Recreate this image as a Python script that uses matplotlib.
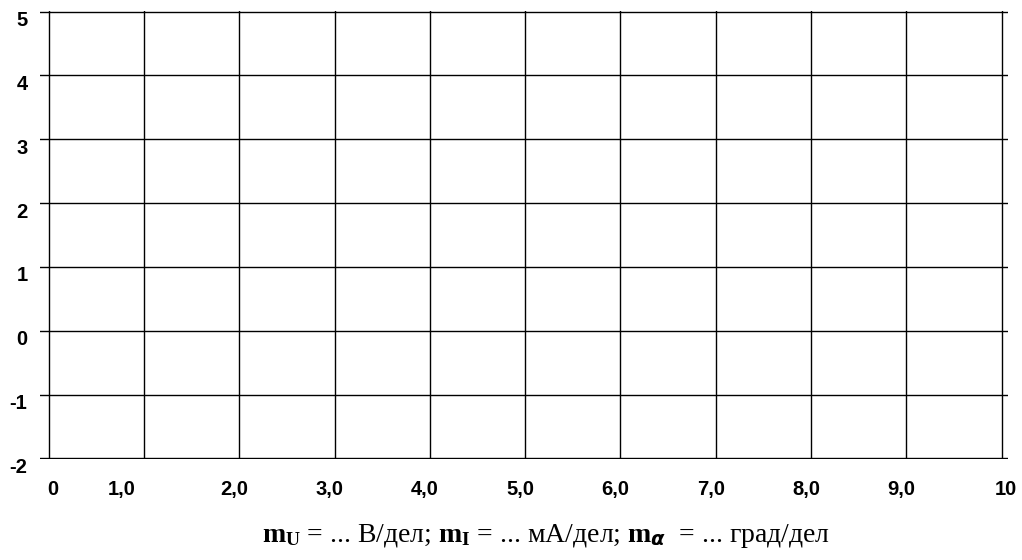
import matplotlib
matplotlib.use('Agg')
import matplotlib.pyplot as plt
import matplotlib.transforms as mtransforms

# tick values and labels
x_ticks = [0, 1, 2, 3, 4, 5, 6, 7, 8, 9, 10]
x_labels = ['0', '1,0', '2,0', '3,0', '4,0', '5,0', '6,0', '7,0', '8,0', '9,0', '10']
y_ticks = [-2, -1, 0, 1, 2, 3, 4, 5]
y_labels = ['-2', '-1', '0', '1', '2', '3', '4', '5']
caption = (r'$\mathbf{m}_{\mathbf{U}}$ = ... В/дел; '
           r'$\mathbf{m}_{\mathbf{I}}$ = ... мА/дел; '
           r'$\mathbf{m}_{\boldsymbol{\alpha}}$  = ... град/дел')

plt.rcParams['mathtext.fontset'] = 'custom'
plt.rcParams['mathtext.rm'] = 'Liberation Serif'
plt.rcParams['mathtext.bf'] = 'Liberation Serif:bold'
plt.rcParams['mathtext.it'] = 'Liberation Serif:italic'

fig = plt.figure(figsize=(10.22, 5.6), dpi=100)
ax = fig.add_axes([40/1022, 1-459/560, 968/1022, 448/560])

ax.set_xlim(-0.091, 10.066)
ax.set_ylim(-2.01, 5.01)
for s in ax.spines.values():
    s.set_visible(False)

ax.set_xticks(x_ticks)
ax.set_xticklabels(x_labels, fontfamily='Liberation Sans', fontweight='bold', fontsize=14.5)
ax.set_yticks(y_ticks)
ax.set_yticklabels(y_labels, fontfamily='Liberation Sans', fontweight='bold', fontsize=14.5)
ax.tick_params(axis='both', length=0)
ax.tick_params(axis='x', pad=15)
ax.tick_params(axis='y', pad=9)
ax.grid(True, color='black', lw=1.0)

# y labels sit a bit below their lines
off = mtransforms.ScaledTranslation(0, -7/100, fig.dpi_scale_trans)
for lbl in ax.get_yticklabels():
    lbl.set_transform(lbl.get_transform() + off)

# x labels are not quite centred under their lines in the original
for lbl in ax.get_xticklabels():
    t = lbl.get_text()
    dx = -5
    if t in ('0', '10'):
        dx = 4
    elif t == '1,0':
        dx = -22
    lbl.set_transform(lbl.get_transform() +
                      mtransforms.ScaledTranslation(dx/100, 0, fig.dpi_scale_trans))

fig.text(546/1022, 1-536/560, caption, ha='center', va='center',
         fontfamily='Liberation Serif', fontsize=20)

fig.savefig('out.png', dpi=100)
